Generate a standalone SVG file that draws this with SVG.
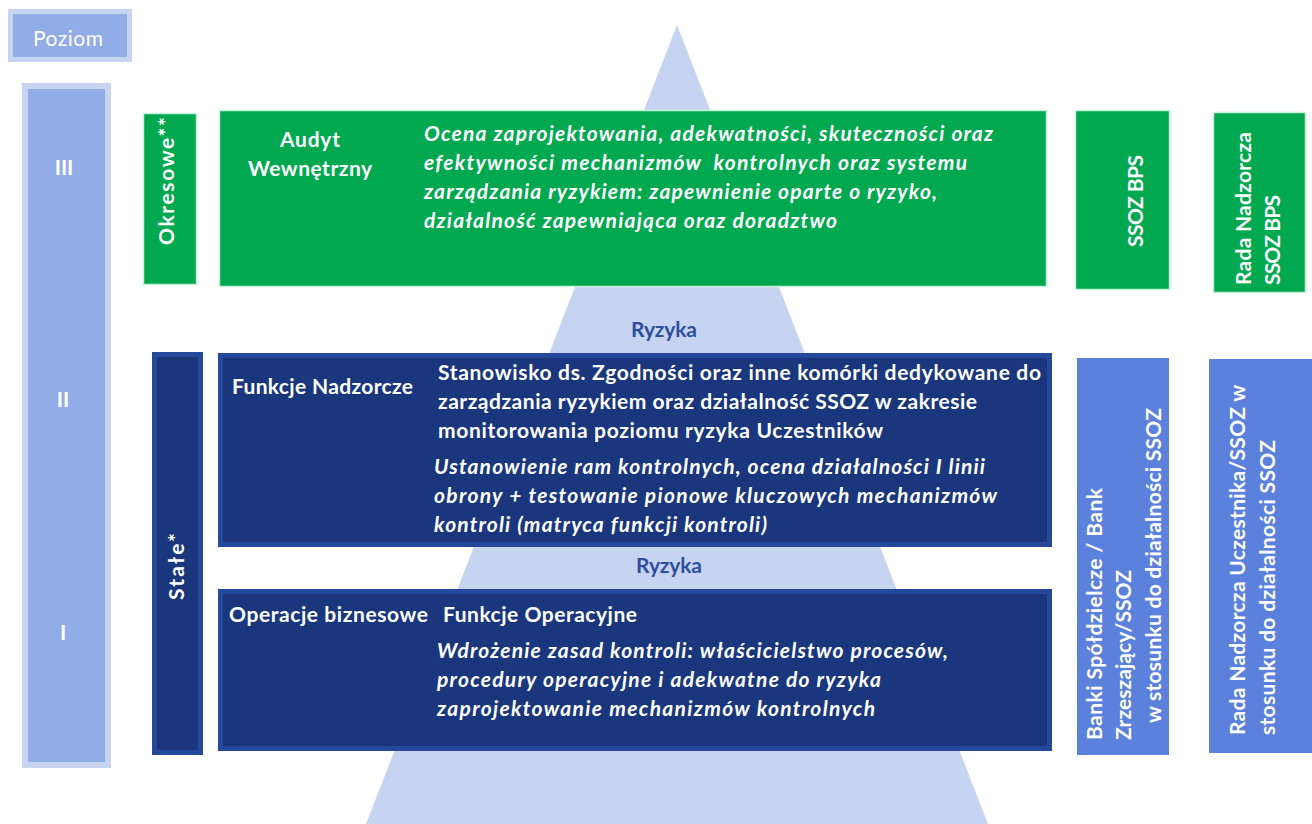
<svg xmlns="http://www.w3.org/2000/svg" width="1312" height="824" viewBox="0 0 1312 824">
<style>
.t{font-family:Lato,"Liberation Sans",sans-serif;fill:#fff;font-weight:700;font-size:21px}
.i{font-style:italic}
.r{font-weight:400}
.rz{fill:#2E4F9F}
.pale{fill:#C6D4F1}
.mid{fill:#91ACE6}
.grn{fill:#00A94F;stroke:#C4F3D8;stroke-width:1.5}
.nav{fill:#1A377D;stroke:#24489A;stroke-width:5}
.blu{fill:#5B81DC}
</style>
<rect width="1312" height="824" fill="#fff"/>
<g id="pyramid"><polygon class="pale" points="677,25 366,824 988,824"/></g>
<g id="connectors"></g>
<g id="poziom">
<rect class="pale" x="8" y="9" width="124" height="53"/>
<rect class="mid" x="13" y="14" width="114" height="43"/>
<text class="t r" x="68" y="46" text-anchor="middle" font-size="22" textLength="70">Poziom</text>
</g>
<g id="levels">
<rect class="pale" x="22" y="83" width="89" height="685"/>
<rect class="mid" x="28" y="89" width="77" height="673"/>
<text class="t" x="64" y="175" text-anchor="middle" font-size="19">III</text>
<text class="t" x="63" y="407" text-anchor="middle" font-size="19">II</text>
<text class="t" x="63" y="640" text-anchor="middle" font-size="19">I</text>
</g>
<g id="okresowe">
<rect class="grn" x="143.5" y="113.5" width="53" height="171"/>
<text class="t" transform="translate(174,245) rotate(-90)" font-size="23" textLength="128">Okresowe**</text>
</g>
<g id="stale">
<rect class="nav" x="154.5" y="354.5" width="46" height="398"/>
<text class="t" transform="translate(184,600) rotate(-90)" font-size="24" textLength="67">Stałe*</text>
</g>
<g id="audyt">
<rect class="grn" x="219.5" y="110.5" width="827" height="176"/>
<text class="t" x="310" y="147" text-anchor="middle" textLength="60">Audyt</text>
<text class="t" x="310" y="176" text-anchor="middle" textLength="124">Wewnętrzny</text>
<text class="t i" x="424" y="141" textLength="569">Ocena zaprojektowania, adekwatności, skuteczności oraz</text>
<text class="t i" x="424" y="170" textLength="543" style="white-space:pre">efektywności mechanizmów  kontrolnych oraz systemu</text>
<text class="t i" x="424" y="199" textLength="513">zarządzania ryzykiem: zapewnienie oparte o ryzyko,</text>
<text class="t i" x="424" y="228" textLength="413">działalność zapewniająca oraz doradztwo</text>
</g>
<g id="ryzyka">
<text class="t rz" x="664" y="337" text-anchor="middle" font-size="20" textLength="66">Ryzyka</text>
<text class="t rz" x="669" y="573" text-anchor="middle" font-size="20" textLength="66">Ryzyka</text>
</g>
<g id="nadzorcze">
<rect class="nav" x="220.5" y="355.5" width="829" height="189"/>
<text class="t" x="232" y="394" textLength="181">Funkcje Nadzorcze</text>
<text class="t" x="438" y="380" textLength="603">Stanowisko ds. Zgodności oraz inne komórki dedykowane do</text>
<text class="t" x="438" y="409" textLength="539">zarządzania ryzykiem oraz działalność SSOZ w zakresie</text>
<text class="t" x="438" y="438" textLength="445">monitorowania poziomu ryzyka Uczestników</text>
<text class="t i" x="434" y="474" textLength="551">Ustanowienie ram kontrolnych, ocena działalności I linii</text>
<text class="t i" x="434" y="503" textLength="563">obrony + testowanie pionowe kluczowych mechanizmów</text>
<text class="t i" x="434" y="532" textLength="333">kontroli (matryca funkcji kontroli)</text>
</g>
<g id="operacyjne">
<rect class="nav" x="220.5" y="591.5" width="829" height="157"/>
<text class="t" x="229" y="622" textLength="199">Operacje biznesowe</text>
<text class="t" x="443" y="622" textLength="194">Funkcje Operacyjne</text>
<text class="t i" x="437" y="658" textLength="511">Wdrożenie zasad kontroli: właścicielstwo procesów,</text>
<text class="t i" x="437" y="687" textLength="444">procedury operacyjne i adekwatne do ryzyka</text>
<text class="t i" x="437" y="716" textLength="438">zaprojektowanie mechanizmów kontrolnych</text>
</g>
<g id="ssoz-bps">
<rect class="grn" x="1075.5" y="110.5" width="94" height="179"/>
<text class="t" transform="translate(1143,201) rotate(-90)" text-anchor="middle" font-size="20" textLength="92">SSOZ BPS</text>
</g>
<g id="rada-ssoz-bps">
<rect class="grn" x="1213.5" y="112.5" width="92" height="180"/>
<text class="t" transform="translate(1251,285) rotate(-90)" font-size="20" textLength="153">Rada Nadzorcza</text>
<text class="t" transform="translate(1280,285) rotate(-90)" font-size="20" textLength="90">SSOZ BPS</text>
</g>
<g id="banki">
<rect class="blu" x="1077" y="358" width="92" height="397"/>
<text class="t" transform="translate(1102,740) rotate(-90)" font-size="20" textLength="252">Banki Spółdzielcze / Bank</text>
<text class="t" transform="translate(1131,740) rotate(-90)" font-size="20" textLength="170">Zrzeszający/SSOZ</text>
<text class="t" transform="translate(1161,723) rotate(-90)" font-size="20" textLength="315">w stosunku do działalności SSOZ</text>
</g>
<g id="rada-uczestnika">
<rect class="blu" x="1209" y="359" width="103" height="394"/>
<text class="t" transform="translate(1245,735) rotate(-90)" font-size="20" textLength="350">Rada Nadzorcza Uczestnika/SSOZ w</text>
<text class="t" transform="translate(1275,735) rotate(-90)" font-size="20" textLength="295">stosunku do działalności SSOZ</text>
</g>
</svg>
